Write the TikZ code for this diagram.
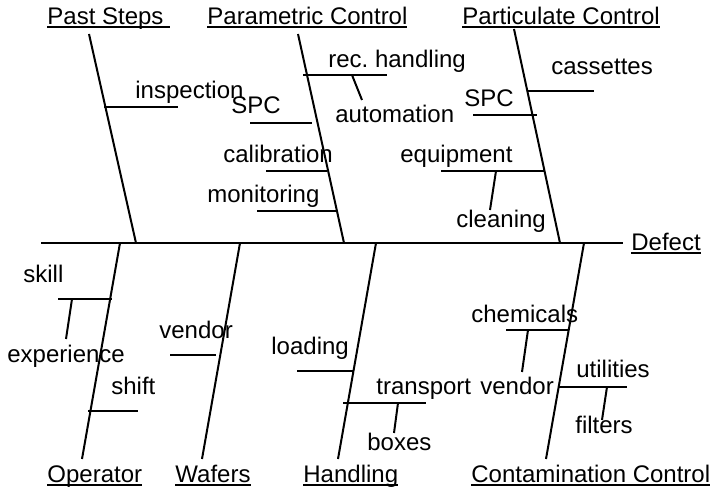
\documentclass[tikz,border=0pt]{standalone}
\usepackage{fontspec}
\setmainfont{Liberation Sans}
\usetikzlibrary{positioning}

% underline drawn close to the baseline, through descenders
\newcommand{\ulabel}[1]{\setbox0\hbox{#1}\rlap{\rule[-0.14em]{\wd0}{0.08em}}\box0}

\begin{document}
\begin{tikzpicture}[
    x=0.5pt, y=-0.5pt,
    bone/.style={line width=1pt},
    rib/.style={line width=1pt},
    lbl/.style={anchor=base west, inner sep=0pt, font=\fontsize{12}{14}\selectfont},
    cat/.style={lbl}
]
\useasboundingbox (0,0) rectangle (714,490);

% spine
\coordinate (tail) at (41,243);
\coordinate (spineend) at (623,243);
\draw[bone] (tail) -- (spineend);
\node[cat] (defect) at (631,251) {\ulabel{Defect}};

% category heads
\node[cat] (past) at (47,25) {\ulabel{Past Steps\ }};
\node[cat] (param) at (207,25) {\ulabel{Parametric Control}};
\node[cat] (partic) at (462,25) {\ulabel{Particulate Control}};
\node[cat] (oper) at (47,483) {\ulabel{Operator}};
\node[cat] (wafers) at (175,483) {\ulabel{Wafers}};
\node[cat] (handl) at (303,483) {\ulabel{Handling}};
\node[cat] (contam) at (471,483) {\ulabel{Contamination Control}};

% main bones
\coordinate (pastT) at (89,34);     \coordinate (pastB) at (136,243);
\coordinate (paramT) at (298,34);   \coordinate (paramB) at (344,243);
\coordinate (particT) at (514,29);  \coordinate (particB) at (560,243);
\coordinate (operT) at (120,243);   \coordinate (operB) at (82,459);
\coordinate (wafersT) at (240,243); \coordinate (wafersB) at (202,459);
\coordinate (handlT) at (376,243);  \coordinate (handlB) at (338,459);
\coordinate (contamT) at (584,243); \coordinate (contamB) at (546,459);
\foreach \b in {past,param,partic,oper,wafers,handl,contam}
    \draw[bone] (\b T) -- (\b B);

% Past Steps
\draw[rib] (104,107) -- (178,107);
\node[lbl] (inspection) at (135,99) {inspection};

% Parametric Control
\draw[rib] (303,75) -- (387,75);
\draw[rib] (352,75) -- (362,100);
\node[lbl] (rechandling) at (328,68) {rec.\ handling};
\node[lbl] (automation) at (335,123) {automation};
\draw[rib] (250,123) -- (312,123);
\node[lbl] (spcA) at (231,114) {SPC};
\draw[rib] (266,171) -- (327,171);
\node[lbl] (calibration) at (223,163) {calibration};
\draw[rib] (257,211) -- (336,211);
\node[lbl] (monitoring) at (207,203) {monitoring};

% Particulate Control
\draw[rib] (528,91) -- (594,91);
\node[lbl] (cassettes) at (551,75) {cassettes};
\draw[rib] (473,115) -- (537,115);
\node[lbl] (spcB) at (464,107) {SPC};
\draw[rib] (441,171) -- (544,171);
\draw[rib] (496,171) -- (490,210);
\node[lbl] (equipment) at (400,163) {equipment};
\node[lbl] (cleaning) at (456,228) {cleaning};

% Operator
\draw[rib] (58,299) -- (112,299);
\draw[rib] (72,299) -- (66,339);
\node[lbl] (skill) at (23,283) {skill};
\node[lbl] (experience) at (7,363) {experience};
\draw[rib] (88,411) -- (138,411);
\node[lbl] (shift) at (111,395) {shift};

% Wafers
\draw[rib] (170,355) -- (216,355);
\node[lbl] (vendorA) at (159,339) {vendor};

% Handling
\draw[rib] (297,371) -- (353,371);
\node[lbl] (loading) at (271,355) {loading};
\draw[rib] (343,403) -- (426,403);
\draw[rib] (398,403) -- (394,433);
\node[lbl] (transport) at (376,395) {transport};
\node[lbl] (boxes) at (367,451) {boxes};

% Contamination Control
\draw[rib] (506,330) -- (568,330);
\draw[rib] (528,330) -- (522,372);
\node[lbl] (chemicals) at (471,323) {chemicals};
\node[lbl] (vendorB) at (480,395) {vendor};
\draw[rib] (559,387) -- (627,387);
\draw[rib] (607,387) -- (602,420);
\node[lbl] (utilities) at (576,378) {utilities};
\node[lbl] (filters) at (575,434) {filters};

\end{tikzpicture}
\end{document}
